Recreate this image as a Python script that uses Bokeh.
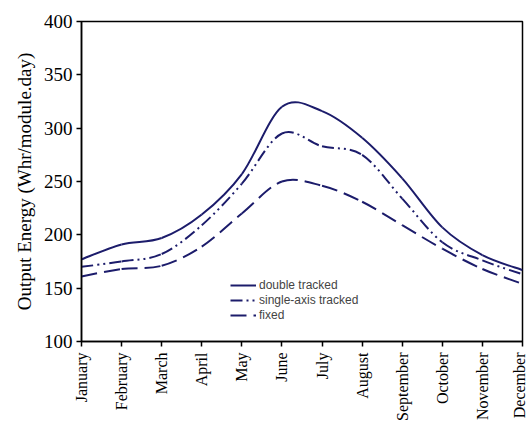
import numpy as np
from bokeh.plotting import figure
from bokeh.models import FixedTicker, Range1d, Legend, LegendItem
from bokeh.embed import file_html
from bokeh.resources import INLINE

months = ["January", "February", "March", "April", "May", "June", "July",
          "August", "September", "October", "November", "December"]
double_tracked = [177, 191, 197, 219, 257, 320, 316, 291, 253, 207, 181, 167]
single_axis = [170, 175, 182, 209, 248, 295, 283, 275, 234, 193, 176, 163]
fixed = [161, 168, 171, 189, 220, 250, 246, 231, 209, 187, 168, 154]

COLOR = "#1c1c6b"

p = figure(width=527, height=423, output_backend="svg", toolbar_location=None,
           x_range=Range1d(0, 11), y_range=Range1d(100, 400),
           min_border_left=81, min_border_right=5, min_border_top=21,
           min_border_bottom=10)
p.xgrid.visible = False
p.ygrid.visible = False
p.outline_line_color = "black"
p.outline_line_width = 1.5


def bezier_segments(y):
    x = np.arange(len(y), dtype=float)
    yv = np.asarray(y, dtype=float)
    n = len(yv)
    xp = np.concatenate([[x[0]], x, [x[-1]]])
    yp = np.concatenate([[yv[0]], yv, [yv[-1]]])
    d = dict(x0=[], y0=[], x1=[], y1=[], cx0=[], cy0=[], cx1=[], cy1=[])
    for i in range(n - 1):
        j = i + 1
        d["x0"].append(xp[j]); d["y0"].append(yp[j])
        d["x1"].append(xp[j + 1]); d["y1"].append(yp[j + 1])
        d["cx0"].append(xp[j] + (xp[j + 1] - xp[j - 1]) / 6)
        d["cy0"].append(yp[j] + (yp[j + 1] - yp[j - 1]) / 6)
        d["cx1"].append(xp[j + 1] - (xp[j + 2] - xp[j]) / 6)
        d["cy1"].append(yp[j + 1] - (yp[j + 2] - yp[j]) / 6)
    return d


items = []
for name, series, dash in [("double tracked", double_tracked, "solid"),
                           ("single-axis tracked", single_axis, "12 4 2 4 2 4"),
                           ("fixed", fixed, "16 7")]:
    r = p.bezier(source=bezier_segments(series), x0="x0", y0="y0", x1="x1", y1="y1",
                 cx0="cx0", cy0="cy0", cx1="cx1", cy1="cy1",
                 line_color=COLOR, line_width=2, line_dash=dash)
    items.append(LegendItem(label=name, renderers=[r]))

legend = Legend(items=items, location=(149, 19), border_line_color=None,
                background_fill_alpha=0, padding=0, margin=0, spacing=1,
                label_text_font="Liberation Sans", label_text_font_size="12px",
                glyph_width=26, glyph_height=14, label_standoff=3,
                label_height=14)
p.add_layout(legend, "center")

p.xaxis.ticker = FixedTicker(ticks=list(range(12)))
p.xaxis.major_label_overrides = {i: m for i, m in enumerate(months)}
p.xaxis.major_label_orientation = np.pi / 2
p.xaxis.minor_tick_line_color = None
p.xaxis.major_label_text_font = "Liberation Serif"
p.xaxis.major_label_text_font_size = "16px"
p.xaxis.major_label_standoff = 6
p.xaxis.major_tick_in = 0
p.xaxis.major_tick_out = 5

p.yaxis.ticker = FixedTicker(ticks=[100, 150, 200, 250, 300, 350, 400])
p.yaxis.minor_tick_line_color = None
p.yaxis.major_label_text_font = "Liberation Serif"
p.yaxis.major_label_text_font_size = "19px"
p.yaxis.major_tick_in = 0
p.yaxis.major_tick_out = 5
p.yaxis.major_label_standoff = 4
p.yaxis.axis_label = "Output Energy (Whr/module.day)"
p.yaxis.axis_label_text_font = "Liberation Serif"
p.yaxis.axis_label_text_font_style = "normal"
p.yaxis.axis_label_text_font_size = "19px"
p.yaxis.axis_label_standoff = 6

for ax in (p.xaxis, p.yaxis):
    ax.axis_line_width = 1.5
    ax.major_tick_line_width = 1.5
    ax.major_label_text_color = "black"
    ax.axis_label_text_color = "black"

open("out.html", "w").write(file_html(p, INLINE))
